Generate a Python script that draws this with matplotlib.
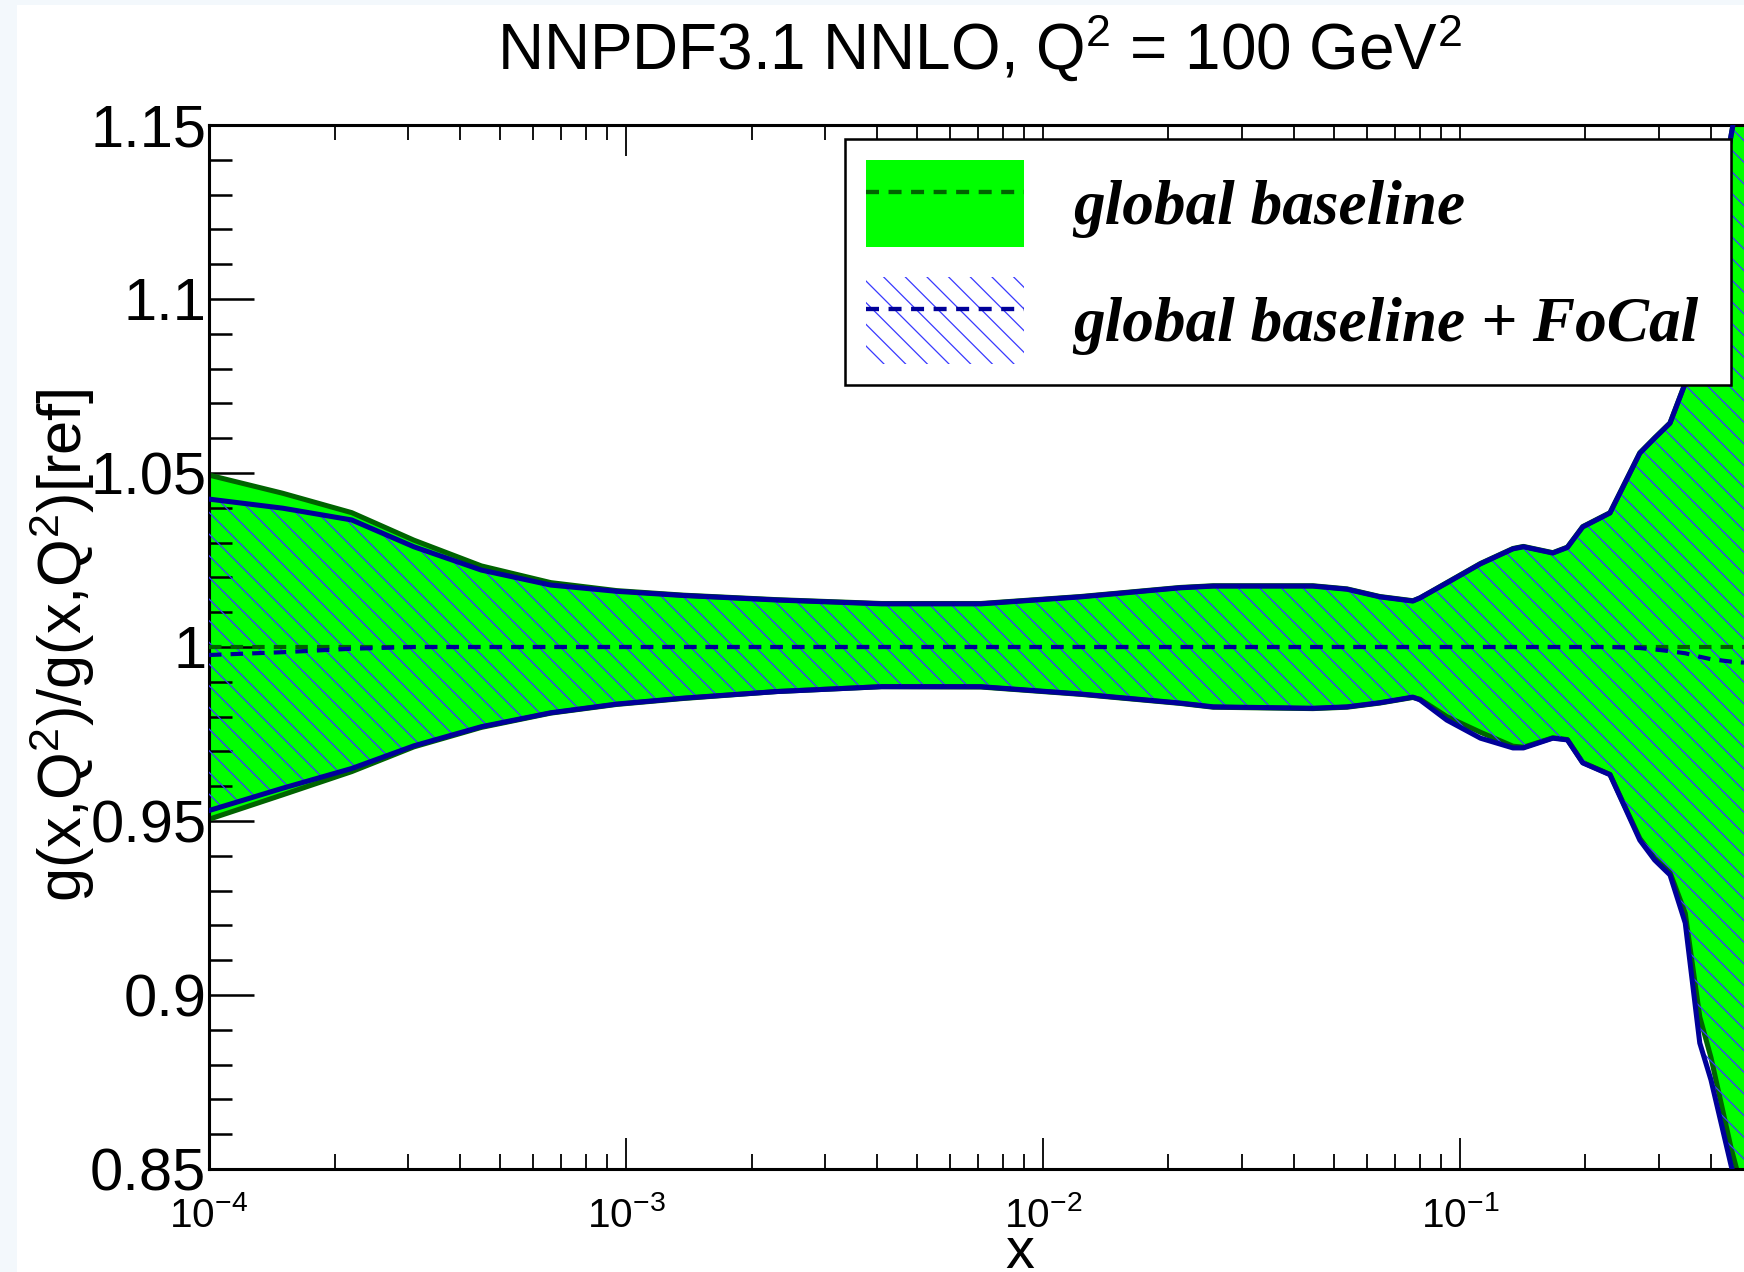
import matplotlib
matplotlib.use("Agg")
import matplotlib.pyplot as plt
from matplotlib.patches import Patch, Rectangle
from matplotlib.lines import Line2D
from matplotlib.ticker import LogLocator, MultipleLocator, NullFormatter

# ---- data: ratio to reference gluon, Q^2 = 100 GeV^2 ----
x_vals = [1.0e-4, 1.5e-4, 2.2e-4, 3.1e-4, 4.5e-4, 6.6e-4, 9.5e-4, 1.37e-3,
          2.3e-3, 4.1e-3, 7.1e-3, 1.23e-2, 2.13e-2, 2.56e-2, 4.44e-2, 5.36e-2,
          6.43e-2, 7.71e-2, 8.02e-2, 9.3e-2, 0.112, 0.134, 0.142, 0.167,
          0.181, 0.197, 0.229, 0.270, 0.293, 0.319, 0.347, 0.376, 0.400,
          0.447, 0.480]

base_upper = [1.0494, 1.0442, 1.0386, 1.0307, 1.0233, 1.0185, 1.0162, 1.0149,
              1.0136, 1.0125, 1.0125, 1.0145, 1.0171, 1.0176, 1.0176, 1.0167,
              1.0145, 1.0133, 1.0141, 1.0185, 1.0240, 1.0283, 1.0289, 1.0271,
              1.0287, 1.0346, 1.0386, 1.0558, 1.0601, 1.0644, 1.0759, 1.0980,
              1.1150, 1.1470, 1.1680]
base_lower = [0.9505, 0.9575, 0.9642, 0.9713, 0.9769, 0.9810, 0.9835, 0.9852,
              0.9872, 0.9886, 0.9885, 0.9864, 0.9838, 0.9827, 0.9823, 0.9827,
              0.9839, 0.9855, 0.9850, 0.9800, 0.9755, 0.9715, 0.9712, 0.9739,
              0.9734, 0.9668, 0.9634, 0.9450, 0.9393, 0.9352, 0.9235, 0.8937,
              0.8820, 0.8560, 0.8420]
base_central = [1.0] * 35

focal_upper = [1.0425, 1.0399, 1.0365, 1.0288, 1.0221, 1.0178, 1.0160, 1.0148,
               1.0135, 1.0124, 1.0124, 1.0144, 1.0170, 1.0175, 1.0175, 1.0166,
               1.0144, 1.0132, 1.0141, 1.0184, 1.0239, 1.0282, 1.0288, 1.0270,
               1.0286, 1.0345, 1.0385, 1.0557, 1.0600, 1.0643, 1.0758, 1.0980,
               1.1150, 1.1470, 1.1680]
focal_lower = [0.9530, 0.9594, 0.9651, 0.9716, 0.9771, 0.9811, 0.9836, 0.9853,
               0.9872, 0.9886, 0.9886, 0.9865, 0.9839, 0.9828, 0.9824, 0.9828,
               0.9840, 0.9856, 0.9848, 0.9790, 0.9738, 0.9710, 0.9710, 0.9738,
               0.9733, 0.9667, 0.9633, 0.9445, 0.9388, 0.9345, 0.9207, 0.8862,
               0.8756, 0.8510, 0.8380]
focal_central = [0.9977, 0.9985, 0.9995, 1.0, 1.0, 1.0, 1.0, 1.0,
                 1.0, 1.0, 1.0, 1.0, 1.0, 1.0, 1.0, 1.0,
                 1.0, 1.0, 1.0, 1.0, 1.0, 1.0, 1.0, 1.0,
                 1.0, 1.0, 1.0, 0.9997, 0.9993, 0.9988, 0.9982, 0.9972,
                 0.9965, 0.9958, 0.9955]

x_ticks = [1e-4, 1e-3, 1e-2, 1e-1]
x_tick_labels = [r"$10^{-4}$", r"$10^{-3}$", r"$10^{-2}$", r"$10^{-1}$"]
y_ticks = [0.85, 0.9, 0.95, 1.0, 1.05, 1.1, 1.15]
y_tick_labels = ["0.85", "0.9", "0.95", "1", "1.05", "1.1", "1.15"]

title = r"NNPDF3.1 NNLO, Q$^{2}$ = 100 GeV$^{2}$"
y_title = r"g(x,Q$^{2}$)/g(x,Q$^{2}$)[ref]"
x_title = "x"
labels = ["global baseline", "global baseline + FoCal"]

# ---- style ----
GREEN_FILL = "#00ff00"
GREEN_LINE = "#006400"
BLUE_LINE = "#000099"
HATCH_BLUE = "#3a3aff"

plt.rcParams["font.family"] = ["Liberation Sans", "DejaVu Sans"]
plt.rcParams["mathtext.fontset"] = "custom"
plt.rcParams["mathtext.rm"] = "Liberation Sans"
plt.rcParams["mathtext.it"] = "Liberation Sans:italic"
plt.rcParams["mathtext.bf"] = "Liberation Sans:bold"
plt.rcParams["mathtext.sf"] = "Liberation Sans"
plt.rcParams["mathtext.default"] = "rm"
plt.rcParams["hatch.linewidth"] = 0.7
plt.rcParams["hatch.color"] = HATCH_BLUE

W, H, DPI = 1744, 1272, 130
fig = plt.figure(figsize=(W / DPI, H / DPI), dpi=DPI, facecolor="#f3f8fc")
fig.patches.append(Rectangle((17 / W, 0), 1, 1 - 5 / H, transform=fig.transFigure,
                             facecolor="white", edgecolor="none", zorder=-10))

ax_left, ax_right, ax_top, ax_bottom = 209, 1744, 125, 1169
ax = fig.add_axes([ax_left / W, 1 - ax_bottom / H,
                   (ax_right - ax_left) / W, (ax_bottom - ax_top) / H])
ax.set_facecolor("white")

dash = (0, (3.0, 2.2))

# global baseline band
ax.fill_between(x_vals, base_lower, base_upper, facecolor=GREEN_FILL,
                edgecolor="none", linewidth=0, zorder=1)
ax.plot(x_vals, base_upper, color=GREEN_LINE, lw=2.8, zorder=2)
ax.plot(x_vals, base_lower, color=GREEN_LINE, lw=2.8, zorder=2)

# global baseline + FoCal band
ax.fill_between(x_vals, focal_lower, focal_upper, facecolor="none",
                edgecolor=HATCH_BLUE, hatch="\\\\", linewidth=0, zorder=3)
ax.plot(x_vals, focal_upper, color=BLUE_LINE, lw=2.8, zorder=4)
ax.plot(x_vals, focal_lower, color=BLUE_LINE, lw=2.8, zorder=4)

# central values
ax.plot(x_vals, base_central, color=GREEN_LINE, lw=2.3, linestyle=dash, zorder=5)
ax.plot(x_vals, focal_central, color=BLUE_LINE, lw=2.3, linestyle=dash, zorder=6)

ax.set_xscale("log")
ax.set_xlim(1e-4, 0.48)
ax.set_ylim(0.85, 1.15)

ax.set_xticks(x_ticks, x_tick_labels)
ax.xaxis.set_minor_locator(LogLocator(base=10, subs=range(2, 10), numticks=20))
ax.xaxis.set_minor_formatter(NullFormatter())
ax.set_yticks(y_ticks, y_tick_labels)
ax.yaxis.set_minor_locator(MultipleLocator(0.01))

ax.tick_params(axis="x", which="major", direction="in", length=17, width=1.0,
               top=True, bottom=True, labelsize=22.5, pad=15)
ax.tick_params(axis="x", which="minor", direction="in", length=8.3, width=1.0,
               top=True, bottom=True)
ax.tick_params(axis="y", which="major", direction="in", length=25, width=1.4,
               left=True, right=False, labelsize=33, pad=1.5)
ax.tick_params(axis="y", which="minor", direction="in", length=12.5, width=1.4,
               left=True, right=False)

for side in ("left", "top", "bottom"):
    ax.spines[side].set_linewidth(1.7)
ax.spines["right"].set_visible(False)

# titles
fig.text(979 / W, 1 - 70 / H, title, ha="center", va="baseline", fontsize=35.3)
fig.text(82 / W, 1 - 645 / H, y_title, rotation=90, rotation_mode="anchor",
         ha="center", va="baseline", fontsize=34, zorder=10)
fig.text(1020 / W, 1 - 1268 / H, x_title, ha="center", va="baseline", fontsize=32)

# legend
h_base = (Patch(facecolor=GREEN_FILL, edgecolor="none", linewidth=0),
          Line2D([], [], color=GREEN_LINE, lw=2.4, linestyle=dash))
h_focal = (Patch(facecolor="white", edgecolor=HATCH_BLUE, hatch="\\\\", linewidth=0),
           Line2D([], [], color=BLUE_LINE, lw=2.4, linestyle=dash))
leg_x0, leg_x1, leg_y0, leg_y1 = 845, 1731, 139, 386
leg = ax.legend([h_base, h_focal], labels, loc="upper left", mode="expand",
                bbox_to_anchor=(leg_x0 / W, 1 - leg_y1 / H, (leg_x1 - leg_x0) / W,
                                (leg_y1 - leg_y0) / H),
                bbox_transform=fig.transFigure,
                borderaxespad=0, borderpad=0.33, handlelength=2.5, handleheight=1.74,
                handletextpad=0.78, labelspacing=0.48, fancybox=False, framealpha=1,
                edgecolor="black",
                prop={"family": "Liberation Serif", "style": "italic",
                      "weight": "bold", "size": 35})
leg.get_frame().set_linewidth(1.4)
leg.set_zorder(20)

fig.savefig("out.png", dpi=DPI, facecolor=fig.get_facecolor())
